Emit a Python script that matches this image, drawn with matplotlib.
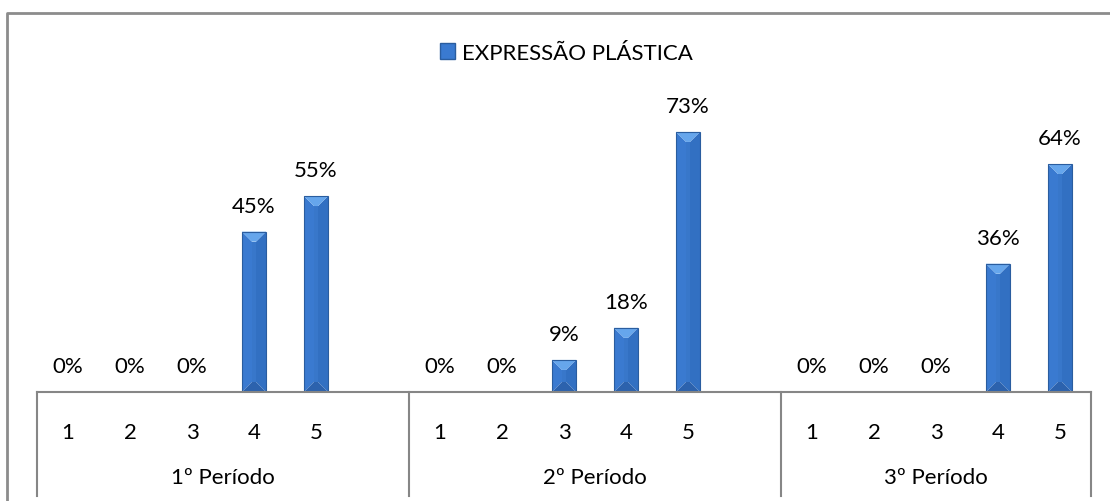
import matplotlib.pyplot as plt
from matplotlib.patches import Polygon, Patch
from matplotlib.lines import Line2D
import matplotlib.transforms as mtransforms

plt.rcParams['font.family'] = ['Lato', 'DejaVu Sans']

# dados
periodos = ['1º Período', '2º Período', '3º Período']
notas = ['1', '2', '3', '4', '5']
p1 = [0, 0, 0, 45, 55]
p2 = [0, 0, 9, 18, 73]
p3 = [0, 0, 0, 36, 64]
valores = [p1, p2, p3]
legenda = 'EXPRESSÃO PLÁSTICA'

W, H = 1110, 502
fig = plt.figure(figsize=(W / 100, H / 100), dpi=100)
ax_l, ax_r, ax_b, ax_t = 37, 1091, 393, 108
ax = fig.add_axes([ax_l / W, 1 - ax_b / H, (ax_r - ax_l) / W, (ax_b - ax_t) / H])

nslots = 6 * len(periodos) - 1
ax.set_xlim(-0.5, nslots - 0.5)
ax.set_ylim(0, 80)
for s in ax.spines.values():
    s.set_visible(False)
ax.set_yticks([])
ax.set_xticks([])

px_x = (ax_r - ax_l) / nslots          # pixels por categoria
px_y = (ax_b - ax_t) / 80.0            # pixels por ponto percentual
fs = 16

meia = 12 / px_x
bev_x = 10 / px_x
bev_y = 10 / px_y

def barra(c, v):
    """Desenha uma barra com efeito de bisel."""
    d_y = min(bev_y, v / 2)
    d_x = min(bev_x, meia)
    x0, x1 = c - meia, c + meia
    ax.add_patch(Polygon([(x0, 0), (x0, v), (c - meia + d_x, v - d_y), (c - meia + d_x, d_y)],
                         closed=True, color='#3a7ad0', lw=0))
    ax.add_patch(Polygon([(x1, 0), (x1, v), (c + meia - d_x, v - d_y), (c + meia - d_x, d_y)],
                         closed=True, color='#3270c2', lw=0))
    ax.add_patch(Polygon([(c - meia + d_x, d_y), (c - meia + d_x, v - d_y),
                          (c + meia - d_x, v - d_y), (c + meia - d_x, d_y)],
                         closed=True, color='#3877ca', lw=0))
    ax.add_patch(Polygon([(x0, v), (x1, v), (c + meia - d_x, v - d_y), (c - meia + d_x, v - d_y)],
                         closed=True, color='#66a6ec', lw=0))
    ax.add_patch(Polygon([(x0, 0), (x1, 0), (c + meia - d_x, d_y), (c - meia + d_x, d_y)],
                         closed=True, color='#2c62ad', lw=0))
    ax.add_patch(Polygon([(x0, 0), (x0, v), (x1, v), (x1, 0)], closed=True,
                         fill=False, ec='#2a5d9f', lw=0.8))

trans = mtransforms.blended_transform_factory(ax.transData, ax.transAxes)
ah = ax_b - ax_t

for g, vals in enumerate(valores):
    for i, v in enumerate(vals):
        c = 6 * g + i
        if v > 0:
            barra(c, v)
        ax.text(c, v + 16 / px_y, f'{v}%', ha='center', va='bottom', fontsize=fs)
        ax.text(c, -40 / ah, notas[i], ha='center', va='center', fontsize=fs,
                transform=trans)

cinza = '#868686'
ax.plot([-0.5, nslots - 0.5], [0, 0], color=cinza, lw=1.5, transform=trans, clip_on=False)
for xs in [-0.5, 5.5, 11.5, nslots - 0.5]:
    ax.plot([xs, xs], [0, -104 / ah], color=cinza, lw=1.5, transform=trans, clip_on=False)

for g, nome in enumerate(periodos):
    ini = 6 * g - 0.5
    fim = min(6 * g + 5.5, nslots - 0.5)
    ax.text((ini + fim) / 2, -85 / ah, nome, ha='center', va='center', fontsize=fs,
            transform=trans)

# moldura do gráfico
fx = 6.5 / W
fy = 1 - 13.5 / H
fig.add_artist(Line2D([fx, fx, 1.0], [0, fy, fy], color='#8c8c8c', lw=2,
                      transform=fig.transFigure))

fig.legend(handles=[Patch(facecolor='#3a7ad0', edgecolor='#2a5d9f', label=legenda)],
           loc='center', bbox_to_anchor=(0.51, 1 - 54 / H), frameon=False, fontsize=fs,
           handlelength=0.7, handleheight=0.7, handletextpad=0.3)

fig.savefig('out.png', dpi=100)
